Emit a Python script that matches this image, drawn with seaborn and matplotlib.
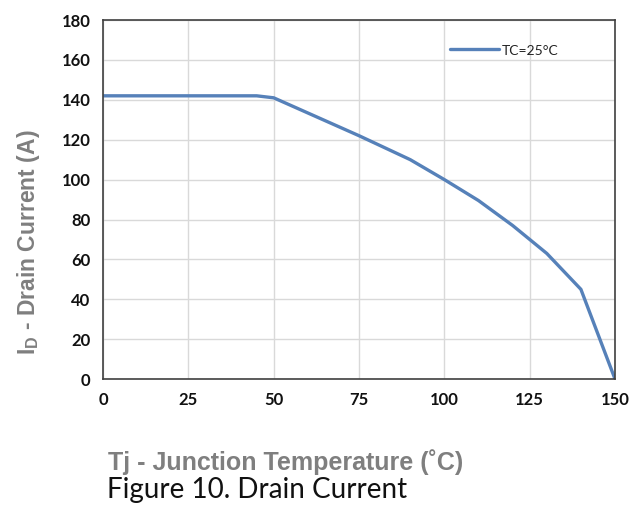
import matplotlib
matplotlib.use("Agg")
import matplotlib.pyplot as plt
import pandas as pd
import seaborn as sns

# Drain current vs junction temperature
temp_c = [0, 45, 50, 75, 90, 100, 110, 120, 130, 140, 150]
drain_a = [142, 142, 141, 122, 110, 100, 89.5, 77, 63, 45, 0]
series_name = "TC=25°C"
x_ticks = [0, 25, 50, 75, 100, 125, 150]
y_ticks = [0, 20, 40, 60, 80, 100, 120, 140, 160, 180]

df = pd.DataFrame({"temp": temp_c, "current": drain_a, "series": series_name})

sns.set_theme(style="whitegrid")
narrow = ["Lato", "DejaVu Sans"]
plt.rcParams["font.family"] = ["Liberation Sans", "DejaVu Sans"]

fig = plt.figure(figsize=(6.4, 5.13), dpi=100)
ax = fig.add_axes([0.161, 0.261, 0.8, 0.7])

sns.lineplot(data=df, x="temp", y="current", hue="series",
             palette=["#5681b9"], linewidth=2.4, ax=ax)

ax.set_xlim(0, 150)
ax.set_ylim(0, 180)
ax.set_xticks(x_ticks)
ax.set_yticks(y_ticks)
ax.grid(True, color="#d9d9d9", linewidth=1)
for s in ax.spines.values():
    s.set_color("#404040")
    s.set_linewidth(1.2)
ax.tick_params(axis="both", length=0, pad=9)
for lab in ax.get_xticklabels() + ax.get_yticklabels():
    lab.set_family(narrow)
    lab.set_fontweight("bold")
    lab.set_fontsize(12)
    lab.set_color("#111111")

ax.set_xlabel("")
ax.set_ylabel("I$_\\mathregular{D}$ - Drain Current (A)", fontsize=16.5,
              fontweight="bold", color="#7f7f7f")
ax.yaxis.set_label_coords(-0.12, 0.38)

leg = ax.legend(loc="upper left", bbox_to_anchor=(0.665, 0.95), frameon=False,
                handlelength=3.2, handletextpad=0.2, borderaxespad=0)
for t in leg.get_texts():
    t.set_family(narrow)
    t.set_fontsize(10)
    t.set_color("#222222")

fig.text(0.447, 0.099, "Tj - Junction Temperature (˚C)",
         fontsize=18, fontweight="bold", color="#7f7f7f", ha="center", va="center")
fig.text(0.167, 0.044, "Figure 10. Drain Current", family=["Lato", "DejaVu Sans"],
         fontsize=20, color="#111111", ha="left", va="center")

fig.savefig("out.png", dpi=100)
